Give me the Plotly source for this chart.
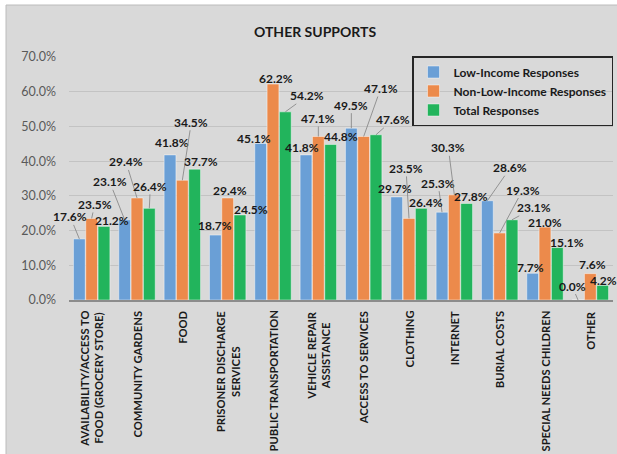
import plotly.graph_objects as go

# ---------------- data ----------------
categories = [
    "AVAILABILITY/ACCESS TO<br>FOOD (GROCERY STORE)",
    "COMMUNITY GARDENS",
    "FOOD",
    "PRISONER DISCHARGE<br>SERVICES",
    "PUBLIC TRANSPORTATION",
    "VEHICLE REPAIR<br>ASSISTANCE",
    "ACCESS TO SERVICES",
    "CLOTHING",
    "INTERNET",
    "BURIAL COSTS",
    "SPECIAL NEEDS CHILDREN",
    "OTHER",
]
low_income = [17.6, 23.1, 41.8, 18.7, 45.1, 41.8, 49.5, 29.7, 25.3, 28.6, 7.7, 0.0]
non_low_income = [23.5, 29.4, 34.5, 29.4, 62.2, 47.1, 47.1, 23.5, 30.3, 19.3, 21.0, 7.6]
total = [21.2, 26.4, 37.7, 24.5, 54.2, 44.8, 47.6, 26.4, 27.8, 23.1, 15.1, 4.2]
series_names = ["Low-Income Responses", "Non-Low-Income Responses", "Total Responses"]
y_ticks = [0, 10, 20, 30, 40, 50, 60, 70]

# ---------------- label placement (pixel offsets from bar top, leader line flag) ----------------
label_offsets = [
    # low-income
    [(-9, -22, 1), (-15, -38, 1), (2, -12, 0), (0, -10, 0), (-7, -5, 0), (-4, -7, 0),
     (0, -23, 1), (-2, -8, 0), (-4, -29, 1), (23, -33, 1), (-2, -6, 0), (-6, -14, 1)],
    # non-low-income
    [(3, -14, 1), (-11, -36, 1), (9, -58, 1), (2, -7, 0), (3, -6, 0), (0, -18, 1),
     (17, -48, 1), (-3, -50, 1), (-6, -47, 1), (23, -43, 1), (0, -5, 0), (2, -9, 0)],
    # total
    [(8, -6, 0), (1, -22, 1), (6, -8, 0), (11, -5, 0), (22, -16, 1), (10, -8, 0),
     (17, -15, 1), (5, -6, 0), (4, -7, 0), (22, -12, 1), (10, -5, 0), (1, -5, 0)],
]

colors = ["#6a9fd6", "#ec8a4b", "#22b45c"]
FONT = "Lato, 'Open Sans', sans-serif"
BARGAP = 0.185

W, H = 617, 454
ML, MR, MT, MB = 69, 4, 57, 154
pw, ph = W - ML - MR, H - MT - MB

xs = list(range(len(categories)))
series = [low_income, non_low_income, total]

fig = go.Figure()
for name, vals, col in zip(series_names, series, colors):
    fig.add_trace(go.Bar(
        x=xs, y=vals, name=name,
        marker=dict(color=col, line=dict(color="rgba(255,255,255,0.45)", width=1)),
        hoverinfo="skip",
    ))

annotations = []
slot = (1 - BARGAP) / 3
for k, vals in enumerate(series):
    for i, v in enumerate(vals):
        dx, dy, leader = label_offsets[k][i]
        xpos = i + (k - 1) * slot
        txt = f"{v:.1f}%"
        common = dict(x=xpos, y=v, xref="x", yref="y", text=txt,
                      font=dict(family=FONT, size=12, color="#1a1a1a", weight="bold"))
        if leader:
            annotations.append(dict(**common, showarrow=True, arrowhead=0, arrowwidth=0.8,
                                    arrowcolor="#808080", ax=dx, ay=dy, standoff=0,
                                    borderpad=0))
        else:
            annotations.append(dict(**common, showarrow=False, xshift=dx, yshift=-dy,
                                    xanchor="center", yanchor="middle", borderpad=0))

# category labels (rotated, lines centred, top-aligned under the axis)
for i, cat in enumerate(categories):
    annotations.append(dict(
        x=i, y=0, xref="x", yref="paper", text=cat, showarrow=False,
        textangle=-90, xanchor="center", yanchor="top", yshift=-9, align="center",
        font=dict(family=FONT, size=11.2, color="#1a1a1a", weight="bold"),
    ))

# title
annotations.append(dict(
    x=(315 - ML) / pw, y=(H - MB - 32) / ph, xref="paper", yref="paper",
    text="OTHER SUPPORTS", showarrow=False, xanchor="center", yanchor="middle",
    font=dict(family=FONT, size=14, color="#1a1a1a", weight="bold"),
))

# background frame covering the whole figure (white strip at top/left)
bg = dict(type="rect", xref="paper", yref="paper", layer="below",
          x0=(6 - ML) / pw, x1=(W + 2 - ML) / pw,
          y0=(H - MB - (H + 2)) / ph, y1=(H - MB - 5) / ph,
          fillcolor="#d9d9d9", line=dict(color="#bcbcbc", width=1))

fig.update_layout(
    width=W, height=H,
    margin=dict(l=ML, r=MR, t=MT, b=MB, pad=0),
    paper_bgcolor="white", plot_bgcolor="rgba(0,0,0,0)",
    barmode="group", bargap=BARGAP, bargroupgap=0.04,
    showlegend=True,
    legend=dict(
        x=1.0, y=(H - MB - 56) / ph, xanchor="right", yanchor="top",
        bgcolor="rgba(0,0,0,0)", bordercolor="#262626", borderwidth=1.5,
        font=dict(family=FONT, size=12, color="#1a1a1a", weight="bold"),
        itemwidth=30, tracegroupgap=0,
    ),
    xaxis=dict(
        range=[-0.5, len(categories) - 0.5], showticklabels=False, showgrid=False,
        zeroline=False, showline=True, linecolor="#8c8c8c", linewidth=1.5, ticks="",
        fixedrange=True,
    ),
    yaxis=dict(
        range=[0, 70], tickvals=y_ticks, ticktext=[f"{t:.1f}%" for t in y_ticks],
        showgrid=True, gridcolor="#c3c3c3", gridwidth=1, zeroline=False,
        showline=False, ticks="", ticklabelstandoff=12,
        tickfont=dict(family=FONT, size=12.5, color="#595959"),
        fixedrange=True,
    ),
    shapes=[bg],
    annotations=annotations,
    font=dict(family=FONT),
)

fig.write_html(
    "out.html",
    config={"displayModeBar": False},
    post_script="document.body.style.margin='0';document.body.style.overflow='hidden';",
)
